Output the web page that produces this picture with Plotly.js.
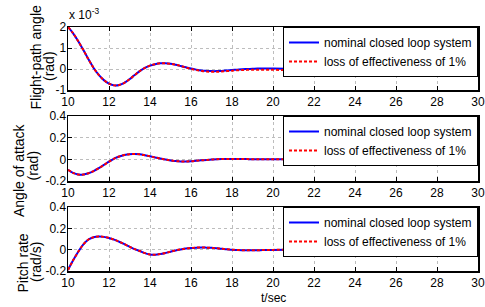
<!DOCTYPE html>
<html>
<head>
<meta charset="utf-8">
<script src="https://cdn.plot.ly/plotly-3.0.1.min.js"></script>
<style>html,body{margin:0;padding:0;background:#fff}#chart{width:485px;height:307px}</style>
</head>
<body>
<div id="chart"></div>
<script>
// time (s)
const t = [10,10.25,10.5,10.75,11,11.25,11.5,11.75,12,12.25,12.5,12.75,13,13.25,13.5,13.75,14,14.25,14.5,14.75,15,15.25,15.5,15.75,16,16.25,16.5,16.75,17,17.25,17.5,17.75,18,18.25,18.5,18.75,19,19.25,19.5,19.75,20,21,22,23,24,25,26,27,28,29,30];
// flight-path angle, in units of 1e-3 rad
const gammaNominal = [2.00,1.70,1.32,0.90,0.46,0.05,-0.28,-0.53,-0.70,-0.78,-0.76,-0.66,-0.49,-0.29,-0.10,0.05,0.16,0.23,0.27,0.27,0.25,0.20,0.14,0.08,0.02,-0.03,-0.07,-0.09,-0.10,-0.10,-0.09,-0.07,-0.05,-0.03,-0.01,0.00,0.01,0.02,0.02,0.02,0.02,0.01,0.00,0.00,0.00,0.00,0.00,0.00,0.00,0.00,0.00];
const gammaLoss = [2.00,1.70,1.32,0.90,0.46,0.05,-0.28,-0.53,-0.70,-0.78,-0.76,-0.66,-0.49,-0.29,-0.10,0.05,0.16,0.23,0.27,0.27,0.25,0.20,0.14,0.07,0.00,-0.05,-0.09,-0.12,-0.13,-0.13,-0.12,-0.10,-0.08,-0.06,-0.05,-0.04,-0.04,-0.04,-0.04,-0.04,-0.04,-0.05,-0.05,-0.05,-0.05,-0.05,-0.05,-0.05,-0.05,-0.05,-0.05];
// angle of attack (rad)
const alphaNominal = [-0.096,-0.125,-0.140,-0.140,-0.128,-0.108,-0.082,-0.052,-0.022,0.006,0.026,0.040,0.048,0.049,0.046,0.038,0.028,0.017,0.007,-0.002,-0.010,-0.016,-0.019,-0.019,-0.017,-0.013,-0.009,-0.005,-0.002,0.001,0.003,0.004,0.004,0.004,0.003,0.002,0.001,0.001,0.000,0.000,0.000,0.000,0.000,0.000,0.000,0.000,0.000,0.000,0.000,0.000,0.000];
const alphaLoss = [-0.096,-0.125,-0.140,-0.140,-0.128,-0.108,-0.082,-0.052,-0.022,0.006,0.026,0.040,0.048,0.049,0.046,0.038,0.028,0.017,0.007,-0.002,-0.010,-0.016,-0.019,-0.019,-0.017,-0.013,-0.009,-0.005,-0.002,0.001,0.003,0.004,0.004,0.004,0.003,0.002,0.001,0.001,0.000,0.000,0.000,0.000,0.000,0.000,0.000,0.000,0.000,0.000,0.000,0.000,0.000];
// pitch rate (rad/s)
const qNominal = [-0.190,-0.100,-0.020,0.050,0.095,0.117,0.123,0.120,0.110,0.094,0.074,0.052,0.029,0.005,-0.013,-0.032,-0.045,-0.047,-0.041,-0.031,-0.019,-0.007,0.002,0.010,0.016,0.019,0.020,0.019,0.017,0.013,0.008,0.004,0.000,-0.003,-0.005,-0.006,-0.006,-0.005,-0.004,-0.003,-0.002,0.000,0.000,0.000,0.000,0.000,0.000,0.000,0.000,0.000,0.000];
const qLoss = [-0.190,-0.100,-0.020,0.050,0.095,0.117,0.123,0.120,0.110,0.094,0.074,0.052,0.029,0.005,-0.013,-0.032,-0.045,-0.047,-0.041,-0.031,-0.019,-0.007,0.002,0.010,0.016,0.019,0.020,0.019,0.017,0.013,0.008,0.004,0.000,-0.003,-0.005,-0.006,-0.006,-0.005,-0.004,-0.003,-0.002,0.000,0.000,0.000,0.000,0.000,0.000,0.000,0.000,0.000,0.000];

const seriesNames = ['nominal closed loop system', 'loss of effectiveness of 1%'];
const xTickVals = [10,12,14,16,18,20,22,24,26,28,30];
const yTickVals1 = [-1,0,1,2];
const yTickText1 = ['-1','0','1','2'];
const yTickVals23 = [-0.2,0,0.2,0.4];
const yTickText23 = ['-0.2','0','0.2','0.4'];
const yLabels = [['Flight-path angle','(rad)'],['Angle of attack','(rad)'],['Pitch rate','(rad/s)']];
const xLabel = 't/sec';
const scaleLabel = 'x 10<sup>-3</sup>';

const sans = '"Liberation Sans", Arial, sans-serif';
const W = 485, H = 307;
const xDom = [68/W, 478/W];
const panels = [[27,90],[116,181],[207,271]];
const yDoms = panels.map(p => [1 - p[1]/H, 1 - p[0]/H]);

const data = [];
const sets = [[gammaNominal, gammaLoss],[alphaNominal, alphaLoss],[qNominal, qLoss]];
sets.forEach((pair, i) => {
  const sfx = i === 0 ? '' : String(i+1);
  data.push({x: t, y: pair[0], type: 'scatter', mode: 'lines', name: seriesNames[0],
    line: {color: '#0000ff', width: 2, shape: 'spline'}, xaxis: 'x'+sfx, yaxis: 'y'+sfx, legend: 'legend'+sfx});
  data.push({x: t, y: pair[1], type: 'scatter', mode: 'lines', name: seriesNames[1],
    line: {color: '#ff0000', width: 2, dash: '3px,2px', shape: 'spline'}, xaxis: 'x'+sfx, yaxis: 'y'+sfx, legend: 'legend'+sfx});
});

const axBase = {
  showline: true, mirror: 'ticks', linecolor: '#000', linewidth: 1.5,
  ticks: 'inside', ticklen: 4, tickcolor: '#000', tickwidth: 1,
  showgrid: true, gridcolor: '#bdbdbd', griddash: 'dot', gridwidth: 1,
  zeroline: false, tickfont: {family: sans, size: 12, color: '#000'}, fixedrange: true,
  ticklabeloverflow: 'allow'
};

const layout = {
  width: W, height: H, margin: {l: 0, r: 0, t: 0, b: 0},
  paper_bgcolor: '#fff', plot_bgcolor: '#fff', showlegend: true,
  font: {family: sans, size: 12, color: '#000'},
  annotations: []
};
for (let i = 0; i < 3; i++) {
  const sfx = i === 0 ? '' : String(i+1);
  layout['xaxis'+sfx] = Object.assign({}, axBase, {domain: xDom, range: [10,30], tickvals: xTickVals,
    anchor: 'y'+sfx});
  layout['yaxis'+sfx] = Object.assign({}, axBase, {domain: yDoms[i],
    range: i === 0 ? [-1,2] : [-0.2,0.4],
    tickvals: i === 0 ? yTickVals1 : yTickVals23,
    ticktext: i === 0 ? yTickText1 : yTickText23,
    anchor: 'x'+sfx, ticklabelstandoff: -2});
  layout['legend'+sfx] = {x: 478/W, xanchor: 'right', y: 1 - panels[i][0]/H, yanchor: 'top',
    bgcolor: '#fff', bordercolor: '#000', borderwidth: 1,
    font: {family: sans, size: 12, color: '#000'}, itemwidth: 30, tracegroupgap: 0};
}
// y-axis titles (two lines each)
const titlePos = [[[36,57.5],[49,66]],[[19,170],[32.5,166]],[[22.5,263],[36,262]]];
yLabels.forEach((lines, i) => {
  lines.forEach((txt, j) => {
    layout.annotations.push({text: txt, xref: 'paper', yref: 'paper',
      x: titlePos[i][j][0]/W, y: 1 - titlePos[i][j][1]/H, xanchor: 'center', yanchor: 'middle',
      textangle: -90, showarrow: false, font: {family: sans, size: 14, color: '#000'}});
  });
});
layout.annotations.push({text: xLabel, xref: 'paper', yref: 'paper', x: 273/W, y: 1 - 298/H,
  xanchor: 'center', yanchor: 'middle', showarrow: false, font: {family: sans, size: 12, color: '#000'}});
layout.annotations.push({text: scaleLabel, xref: 'paper', yref: 'paper', x: 67/W, y: 1 - 24/H,
  xanchor: 'left', yanchor: 'bottom', showarrow: false, font: {family: sans, size: 12, color: '#000'}});

Plotly.newPlot('chart', data, layout, {displayModeBar: false, staticPlot: true});
</script>
</body>
</html>
